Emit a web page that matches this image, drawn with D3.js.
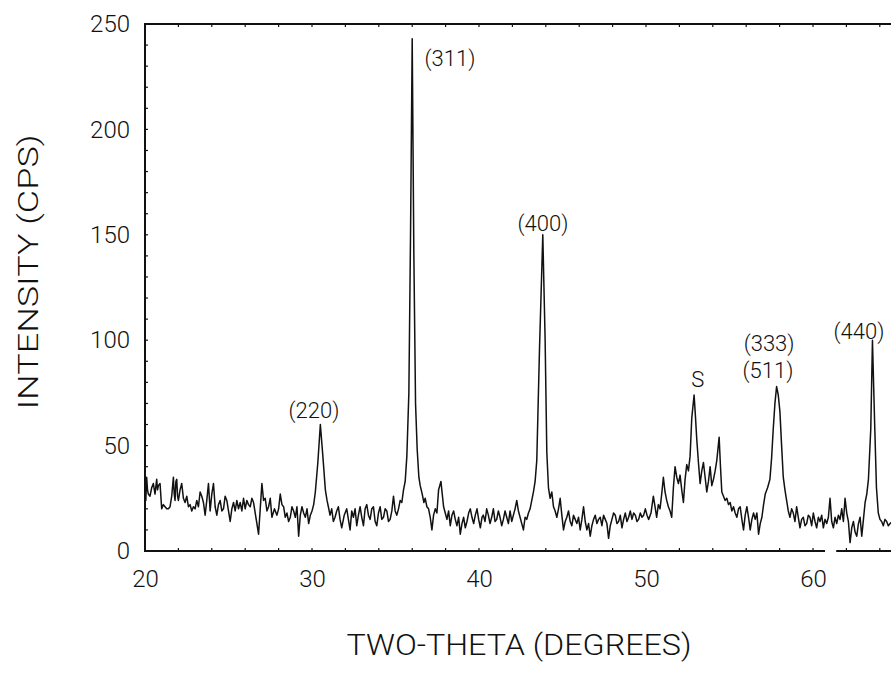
<!DOCTYPE html>
<html>
<head>
<meta charset="utf-8">
<script src="https://cdn.jsdelivr.net/npm/d3@7"></script>
<style>
  body { margin: 0; background: #fff; }
  svg { display: block; font-family: Roboto, "Liberation Sans", Arial, sans-serif; font-weight: 300; }
</style>
</head>
<body>
<svg width="891" height="679"></svg>
<script>
// diffraction trace (20 points per row)
var twoTheta = [
	20.0,20.05,20.1,20.15,20.2,20.3,20.4,20.5,20.6,20.7,20.75,20.8,20.9,21.0,21.1,21.2,21.3,21.4,21.5,21.6,
	21.7,21.75,21.8,21.85,21.9,21.95,22.0,22.1,22.2,22.3,22.4,22.5,22.6,22.7,22.8,22.9,23.0,23.1,23.2,23.3,
	23.4,23.5,23.6,23.7,23.8,23.9,24.0,24.1,24.2,24.3,24.4,24.5,24.6,24.7,24.8,24.9,25.0,25.1,25.2,25.3,
	25.4,25.5,25.6,25.7,25.8,25.9,26.0,26.1,26.2,26.3,26.4,26.5,26.6,26.7,26.8,26.9,27.0,27.1,27.2,27.3,
	27.4,27.5,27.6,27.75,27.9,28.0,28.1,28.2,28.3,28.4,28.5,28.6,28.7,28.8,28.9,29.0,29.1,29.2,29.3,29.4,
	29.5,29.6,29.7,29.8,29.9,30.0,30.1,30.2,30.35,30.5,30.65,30.8,30.9,30.98,31.08,31.18,31.28,31.38,31.48,31.58,
	31.68,31.78,31.93,32.08,32.18,32.28,32.38,32.48,32.58,32.68,32.78,32.88,32.98,33.08,33.18,33.28,33.38,33.48,33.58,33.68,
	33.78,33.88,33.98,34.08,34.18,34.28,34.38,34.48,34.58,34.68,34.78,34.88,34.98,35.08,35.18,35.28,35.38,35.48,35.58,
	35.68,35.8,35.9,36.0,36.1,36.2,36.3,36.4,36.48,36.6,36.7,36.78,36.88,36.98,37.08,37.18,37.28,37.38,37.48,37.58,
	37.72,37.8,37.88,37.98,38.08,38.18,38.28,38.38,38.48,38.58,38.68,38.78,38.88,38.98,39.08,39.18,39.28,39.38,39.48,39.58,
	39.68,39.78,39.88,39.98,40.08,40.18,40.26,40.36,40.46,40.56,40.66,40.76,40.86,40.96,41.06,41.16,41.26,41.36,41.46,41.56,
	41.66,41.76,41.86,41.96,42.06,42.16,42.26,42.36,42.46,42.56,42.66,42.76,42.86,42.96,43.06,43.16,43.26,43.36,43.46,43.62,
	43.82,43.96,44.06,44.16,44.26,44.36,44.46,44.56,44.66,44.76,44.86,44.96,45.06,45.16,45.26,45.36,45.46,45.56,45.66,45.76,
	45.86,45.96,46.06,46.16,46.26,46.36,46.46,46.56,46.66,46.76,46.86,46.96,47.06,47.16,47.26,47.36,47.46,47.56,47.66,47.76,
	47.86,47.96,48.06,48.16,48.26,48.36,48.46,48.56,48.66,48.76,48.86,48.96,49.06,49.16,49.26,49.36,49.46,49.56,49.66,49.76,
	49.86,49.96,50.06,50.16,50.3,50.44,50.54,50.64,50.74,50.84,50.94,51.04,51.14,51.24,51.34,51.44,51.54,51.64,51.74,51.84,
	51.94,52.04,52.14,52.24,52.34,52.44,52.54,52.64,52.74,52.88,52.96,53.04,53.14,53.24,53.34,53.44,53.54,53.64,53.74,53.84,
	53.94,54.04,54.14,54.24,54.38,54.46,54.54,54.64,54.74,54.84,54.94,55.04,55.14,55.24,55.34,55.44,55.54,55.64,55.74,55.84,
	55.94,56.04,56.14,56.24,56.34,56.44,56.54,56.64,56.74,56.84,56.94,57.04,57.14,57.28,57.42,57.52,57.62,57.72,57.82,57.92,
	58.02,58.12,58.22,58.32,58.42,58.52,58.62,58.72,58.82,58.92,59.02,59.12,59.22,59.32,59.42,59.52,59.62,59.72,59.82,59.92,
	60.02,60.12,60.22,60.32,60.42,60.52,60.62,60.72,60.82,60.92,61.02,61.12,61.22,61.32,61.42,61.52,61.62,61.72,61.82,61.92,
	62.02,62.12,62.22,62.32,62.42,62.52,62.62,62.72,62.82,62.92,63.02,63.12,63.22,63.32,63.46,63.56,63.7,63.8,63.91,64.01,
	64.11,64.21,64.31,64.41,64.51,64.61,64.75,64.9
];
var counts = [
	30,24,35,29,27,26,30,32,27,34,29,31,32,20,22,21,20,20,21,26,
	35,27,24,33,34,26,24,29,32,25,23,26,21,22,19,21,20,24,21,28,
	26,23,17,24,32,19,27,32,21,17,22,24,19,20,26,24,19,14,20,23,
	19,24,20,23,19,25,20,24,22,21,25,23,18,13,8,20,32,24,25,19,
	21,25,16,20,17,20,27,22,21,16,18,14,16,21,19,16,21,7,17,21,
	18,16,20,13,17,19,22,28,42,60,45,29,24,21,17,20,14,16,19,21,
	15,11,17,20,15,10,19,16,20,12,17,21,16,12,20,22,17,15,20,21,
	14,12,18,21,15,16,20,19,14,15,19,26,19,17,20,24,23,29,33,
	45,75,150,243,140,70,48,35,31,27,23,25,21,20,16,10,17,20,18,29,
	33,27,21,18,15,19,12,17,19,15,12,16,8,13,16,11,14,18,20,16,
	13,17,20,15,11,16,17,14,20,17,13,16,20,14,15,19,16,12,15,19,
	16,13,19,14,17,20,24,19,16,13,10,16,15,18,20,24,28,33,43,95,
	150,100,47,30,25,28,21,19,16,20,25,17,10,14,16,19,14,12,17,15,
	13,16,10,15,21,14,10,13,7,12,15,17,13,15,16,12,17,15,13,6,
	12,15,18,17,13,14,17,11,15,18,14,16,19,15,18,17,14,15,18,16,
	17,20,17,15,18,26,21,16,22,20,27,35,28,24,21,19,16,30,40,35,
	32,36,29,23,34,41,38,45,63,74,64,53,42,32,38,42,35,28,33,40,
	31,34,38,43,54,40,28,26,24,25,22,23,19,21,18,16,20,21,15,10,
	17,21,16,10,15,18,15,18,8,13,16,22,27,30,34,44,58,70,78,74,
	66,50,35,29,24,19,16,20,18,14,21,16,11,15,16,12,13,17,16,12,
	18,14,11,16,14,17,11,15,13,16,25,14,11,16,13,17,15,20,14,25,
	18,14,4,11,14,9,7,13,16,7,15,23,27,34,58,100,58,30,18,15,
	14,12,15,14,12,13,14,14
];

var xTicks = [20, 30, 40, 50, 60],
	yTicks = [0, 50, 100, 150, 200, 250];

// reflection labels, anchored in data units
var peakNames = ["(220)", "(311)", "(400)", "S", "(333)", "(511)", "(440)"],
	peakAngles = [30.12, 38.26, 43.83, 53.1, 57.37, 57.3, 62.75],
	peakCounts = [63, 230, 152, 78, 95, 82, 100.6];

var svg = d3.select("svg"),
	x = d3.scaleLinear().domain([20, 65]).range([145, 896.5]),
	y = d3.scaleLinear().domain([0, 250]).range([551, 24]);

var ink = "#111",
	font = "Roboto, 'Liberation Sans', Arial, sans-serif";

// frame: left, top, bottom (bottom has a small break near 61 deg)
svg.append("line")
	.attr("x1", x(20)).attr("x2", x(20))
	.attr("y1", y(250)).attr("y2", y(0))
	.attr("stroke", ink).attr("stroke-width", 2);
svg.append("line")
	.attr("x1", x(20) - 1).attr("x2", 891)
	.attr("y1", y(250)).attr("y2", y(250))
	.attr("stroke", ink).attr("stroke-width", 2);
[[20, 60.72], [61.45, 65]].forEach(function(s) {
	svg.append("line")
		.attr("x1", x(s[0]) - 1).attr("x2", x(s[1]))
		.attr("y1", y(0)).attr("y2", y(0))
		.attr("stroke", ink).attr("stroke-width", 2);
});

// small inward ticks
svg.append("g").selectAll("line")
	.data(d3.range(22, 65, 2))
	.enter().append("line")
	.attr("x1", function(d){ return x(d)}).attr("x2", function(d){ return x(d)})
	.attr("y1", y(250)).attr("y2", y(250) + 3)
	.attr("stroke", ink).attr("stroke-width", 1.2);
svg.append("g").selectAll("line")
	.data(d3.range(22, 65, 2))
	.enter().append("line")
	.attr("x1", function(d){ return x(d)}).attr("x2", function(d){ return x(d)})
	.attr("y1", y(0)).attr("y2", y(0) - 3)
	.attr("stroke", ink).attr("stroke-width", 1.2);
svg.append("g").selectAll("line")
	.data(d3.range(10, 250, 10))
	.enter().append("line")
	.attr("x1", x(20)).attr("x2", x(20) + 3)
	.attr("y1", function(d){ return y(d)}).attr("y2", function(d){ return y(d)})
	.attr("stroke", ink).attr("stroke-width", 1.2);

// tick labels through d3 axes
var xAxis = svg.append("g")
	.attr("transform", "translate(0," + y(0) + ")")
	.call(d3.axisBottom(x).tickValues(xTicks).tickSize(0).tickPadding(19));
var yAxis = svg.append("g")
	.attr("transform", "translate(" + x(20) + ",0)")
	.call(d3.axisLeft(y).tickValues(yTicks).tickSize(0).tickPadding(15));
[xAxis, yAxis].forEach(function(a) {
	a.select(".domain").remove();
	a.selectAll("text")
		.attr("fill", ink)
		.style("font-size", "24px")
		.style("font-weight", "300")
		.style("font-family", font);
});

// the trace
var line = d3.line()
	.x(function(d, i){ return x(twoTheta[i])})
	.y(function(d){ return y(d)});

svg.append("path")
	.datum(counts)
	.attr("d", line)
	.attr("fill", "none")
	.attr("stroke", ink)
	.attr("stroke-width", 1.5)
	.attr("stroke-linejoin", "round");

// reflection labels
svg.append("g").selectAll("text")
	.data(peakNames)
	.enter().append("text")
	.attr("x", function(d, i){ return x(peakAngles[i])})
	.attr("y", function(d, i){ return y(peakCounts[i])})
	.attr("text-anchor", "middle")
	.attr("fill", ink)
	.style("font-size", "22px")
	.text(function(d){ return d});

// axis titles
svg.append("text")
	.attr("x", 519)
	.attr("y", 655)
	.attr("text-anchor", "middle")
	.attr("fill", ink)
	.attr("textLength", 345)
	.attr("lengthAdjust", "spacingAndGlyphs")
	.style("font-size", "30px")
	.text("TWO-THETA (DEGREES)");

svg.append("text")
	.attr("transform", "translate(38,272) rotate(-90)")
	.attr("text-anchor", "middle")
	.attr("fill", ink)
	.attr("textLength", 275)
	.attr("lengthAdjust", "spacingAndGlyphs")
	.style("font-size", "27px")
	.text("INTENSITY (CPS)");
</script>
</body>
</html>
